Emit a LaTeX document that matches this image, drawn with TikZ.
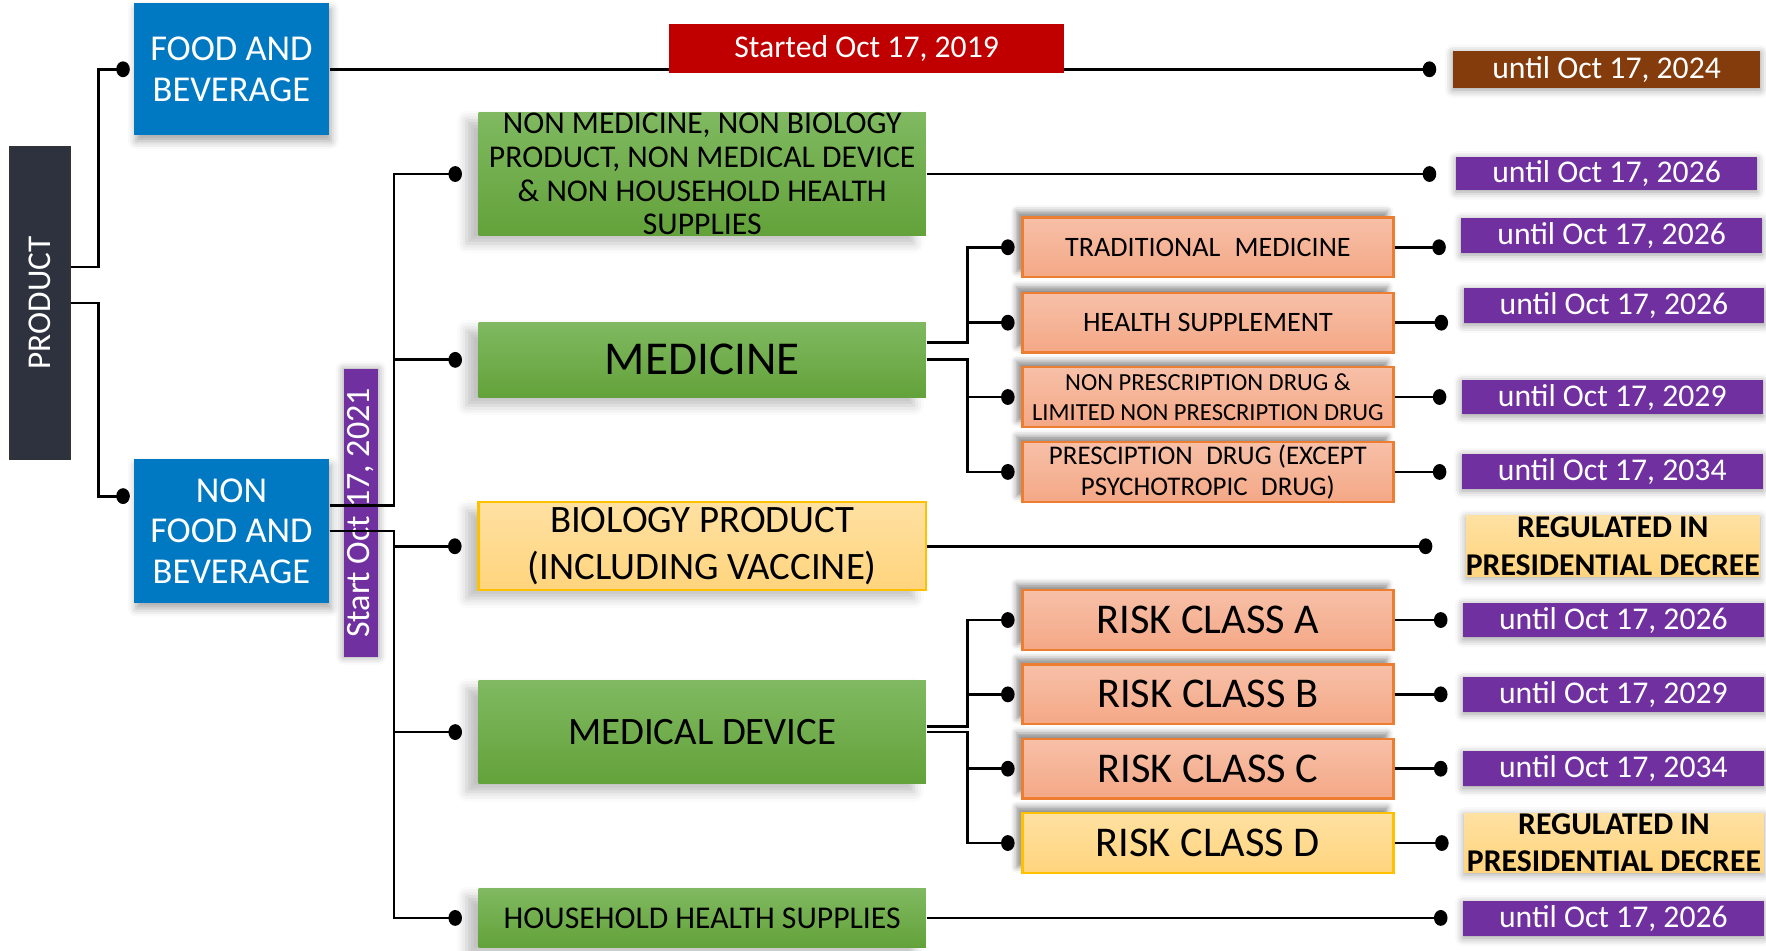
\documentclass[tikz,border=0pt]{standalone}
\usepackage{fontspec}
\setmainfont{Carlito}
\usetikzlibrary{arrows.meta,shadows.blur}

\definecolor{prodgray}{RGB}{45,50,62}
\definecolor{catblue}{RGB}{0,121,194}
\definecolor{startred}{RGB}{192,0,0}
\definecolor{untilbrown}{RGB}{132,60,12}
\definecolor{untilpurple}{RGB}{112,48,160}
\definecolor{greentop}{RGB}{128,185,97}
\definecolor{greenbot}{RGB}{99,162,58}
\definecolor{yellowtop}{RGB}{255,225,162}
\definecolor{yellowbot}{RGB}{255,212,125}
\definecolor{yellowline}{RGB}{255,192,0}
\definecolor{salmontop}{RGB}{247,192,168}
\definecolor{salmonbot}{RGB}{244,168,134}
\definecolor{salmonline}{RGB}{237,125,49}

\begin{document}
\begin{tikzpicture}[
    x=0.01cm, y=-0.01cm,
    base/.style={rectangle, inner sep=0pt, align=center},
    darkbox/.style={base, fill=prodgray, draw=black!80, text=white},
    bluebox/.style={base, fill=catblue, text=white, minimum width=1.73cm, font=\fontsize{9.2pt}{10.2pt}\selectfont, blur shadow={shadow xshift=0.5pt, shadow yshift=-1.5pt, shadow blur radius=2pt, shadow opacity=35}},
    greenbox/.style={base, top color=greentop, bottom color=greenbot, minimum width=3.97cm, blur shadow={shadow xshift=-3pt, shadow yshift=-2pt, shadow blur radius=2.5pt, shadow opacity=25}},
    yellowbox/.style={base, top color=yellowtop, bottom color=yellowbot, draw=yellowline, line width=0.6pt},
    salmonbox/.style={base, top color=salmontop, bottom color=salmonbot, draw=salmonline, line width=0.6pt, minimum width=3.29cm, minimum height=0.53cm, blur shadow={shadow xshift=-1.5pt, shadow yshift=1.5pt, shadow blur radius=1.5pt, shadow opacity=45}},
    datebox/.style={base, fill=untilpurple, text=white, minimum width=2.67cm, minimum height=0.31cm, font=\fontsize{8pt}{9pt}\selectfont, blur shadow={shadow xshift=0pt, shadow yshift=-0.5pt, shadow blur radius=2pt, shadow opacity=40}},
    regbox/.style={base, top color=yellowtop, bottom color=yellowbot, font=\bfseries\fontsize{8pt}{9.4pt}\selectfont, blur shadow={shadow xshift=0pt, shadow yshift=-0.5pt, shadow blur radius=2pt, shadow opacity=35}},
    link/.style={line width=0.7pt, -{Circle[length=0.12cm, width=0.14cm]}}
]
\useasboundingbox (0,0) rectangle (1568,844);

% Product and its two groups
\node[darkbox, minimum width=0.53cm, minimum height=2.78cm] (product) at (35.5,269) {\rotatebox{90}{\fontsize{8.4pt}{9pt}\selectfont PRODUCT}};
\node[bluebox, minimum height=1.17cm] (food) at (205.5,61.5) {FOOD AND\\BEVERAGE};
\node[bluebox, minimum height=1.27cm] (nonfood) at (205.5,471.5) {NON\\FOOD AND\\BEVERAGE};
\node[base, fill=untilpurple, text=white, minimum width=0.31cm, minimum height=2.55cm, blur shadow={shadow xshift=0pt, shadow yshift=0pt, shadow blur radius=2pt, shadow opacity=40}] (start) at (320.5,455.5) {\rotatebox{90}{\fontsize{8.6pt}{9pt}\selectfont Start Oct 17, 2021}};

% Categories
\node[greenbox, minimum height=1.09cm, font=\fontsize{8pt}{8.5pt}\selectfont] (nonmed) at (623.5,154.5) {NON MEDICINE, NON BIOLOGY\\PRODUCT, NON MEDICAL DEVICE\\\& NON HOUSEHOLD HEALTH\\SUPPLIES};
\node[greenbox, minimum height=0.67cm, font=\fontsize{11.9pt}{13pt}\selectfont] (medicine) at (623.5,319.5) {MEDICINE};
\node[yellowbox, minimum width=3.97cm, minimum height=0.78cm, font=\fontsize{9.8pt}{12pt}\selectfont, blur shadow={shadow xshift=-3pt, shadow yshift=-2pt, shadow blur radius=2.5pt, shadow opacity=25}] (biology) at (623.5,485) {BIOLOGY PRODUCT\\(INCLUDING VACCINE)};
\node[greenbox, minimum height=0.92cm, font=\fontsize{9.8pt}{11pt}\selectfont] (meddev) at (623.5,650) {MEDICAL DEVICE};
\node[greenbox, minimum height=0.52cm, font=\fontsize{8pt}{9pt}\selectfont] (household) at (623.5,815) {HOUSEHOLD HEALTH SUPPLIES};

% Medicine types
\node[salmonbox, font=\fontsize{7.1pt}{8pt}\selectfont] (trad) at (1072.5,219.5) {TRADITIONAL\enspace MEDICINE};
\node[salmonbox, font=\fontsize{7.1pt}{8pt}\selectfont] (health) at (1072.5,286.5) {HEALTH SUPPLEMENT};
\node[salmonbox, font=\fontsize{6.2pt}{7.7pt}\selectfont] (npd) at (1072.5,352.5) {NON PRESCRIPTION DRUG \&\\LIMITED NON PRESCRIPTION DRUG};
\node[salmonbox, font=\fontsize{6.8pt}{7.7pt}\selectfont] (pd) at (1072.5,419) {PRESCIPTION\enspace DRUG (EXCEPT\\PSYCHOTROPIC\enspace DRUG)};

% Device risk classes
\node[salmonbox, font=\fontsize{10.7pt}{12pt}\selectfont] (riska) at (1072.5,550.5) {RISK CLASS A};
\node[salmonbox, font=\fontsize{10.7pt}{12pt}\selectfont] (riskb) at (1072.5,616.5) {RISK CLASS B};
\node[salmonbox, font=\fontsize{10.7pt}{12pt}\selectfont] (riskc) at (1072.5,682.5) {RISK CLASS C};
\node[salmonbox, top color=yellowtop, bottom color=yellowbot, draw=yellowline, font=\fontsize{10.7pt}{12pt}\selectfont] (riskd) at (1072.5,748.5) {RISK CLASS D};

% Deadlines
\node[datebox, fill=untilbrown, minimum width=2.73cm, minimum height=0.33cm] (dfood) at (1426.5,61.5) {until Oct 17, 2024};
\node[datebox, minimum height=0.29cm] (dnonmed) at (1426.5,154) {until Oct 17, 2026};
\node[datebox] (dtrad) at (1431,209) {until Oct 17, 2026};
\node[datebox] (dhealth) at (1433,271.5) {until Oct 17, 2026};
\node[datebox] (dnpd) at (1431.5,352.5) {until Oct 17, 2029};
\node[datebox] (dpd) at (1431.5,418.5) {until Oct 17, 2034};
\node[regbox, minimum width=2.55cm, minimum height=0.54cm] (rbio) at (1432,485) {REGULATED IN\\PRESIDENTIAL DECREE};
\node[datebox] (da) at (1432.5,550.5) {until Oct 17, 2026};
\node[datebox] (db) at (1432.5,616.5) {until Oct 17, 2029};
\node[datebox] (dc) at (1432.5,682.5) {until Oct 17, 2034};
\node[regbox, minimum width=2.66cm, minimum height=0.53cm] (rd) at (1433,748.5) {REGULATED IN\\PRESIDENTIAL DECREE};
\node[datebox] (dhouse) at (1432.5,815.5) {until Oct 17, 2026};

% Tree connectors
\draw[link, shorten >=0.03cm] ([yshift=0.32cm]product.east) -- ++(25,0) |- (food.west);
\draw[link, shorten >=0.03cm] (product.east) -- ++(25,0) |- ([yshift=0.31cm]nonfood.west);
\draw[link, shorten >=0.14cm] ([yshift=0.23cm]nonfood.east) -- ++(57,0) |- (nonmed.west);
\draw[link, shorten >=0.14cm] ([yshift=0.23cm]nonfood.east) -- ++(57,0) |- (medicine.west);
\draw[link, shorten >=0.14cm] (nonfood.east) -- ++(57,0) |- (biology.west);
\draw[link, shorten >=0.14cm] (nonfood.east) -- ++(57,0) |- (meddev.west);
\draw[link, shorten >=0.14cm] (nonfood.east) -- ++(57,0) |- (household.west);
\draw[link, shorten >=0.06cm] ([yshift=0.155cm]medicine.east) -- ++(36,0) |- (trad.west);
\draw[link, shorten >=0.06cm] ([yshift=0.155cm]medicine.east) -- ++(36,0) |- (health.west);
\draw[link, shorten >=0.06cm] (medicine.east) -- ++(36,0) |- (npd.west);
\draw[link, shorten >=0.06cm] (medicine.east) -- ++(36,0) |- (pd.west);
\draw[link, shorten >=0.06cm] ([yshift=0.05cm]meddev.east) -- ++(36,0) |- (riska.west);
\draw[link, shorten >=0.06cm] ([yshift=0.05cm]meddev.east) -- ++(36,0) |- (riskb.west);
\draw[link, shorten >=0.06cm] (meddev.east) -- ++(36,0) |- (riskc.west);
\draw[link, shorten >=0.06cm] (meddev.east) -- ++(36,0) |- (riskd.west);

% Deadline connectors
\draw[link, shorten >=0.14cm] (food.east) -- (dfood.west);
\draw[link, shorten >=0.17cm] (nonmed.east) -- (nonmed.east -| dnonmed.west);
\draw[link, shorten >=0.29cm] (biology.east) -- (biology.east -| rbio.west);
\draw[link, shorten >=0.13cm] (household.east) -- (household.east -| dhouse.west);
\foreach \src/\dst in {trad/dtrad, health/dhealth, npd/dnpd, pd/dpd, riska/da, riskb/db, riskc/dc, riskd/rd}
  \draw[link, shorten >=0.13cm] (\src.east) -- (\src.east -| \dst.west);

% Start label on the food line
\node[base, fill=startred, text=white, minimum width=3.51cm, minimum height=0.44cm, font=\fontsize{8pt}{9pt}\selectfont] (started) at (769.5,43) {Started Oct 17, 2019};

\end{tikzpicture}
\end{document}
